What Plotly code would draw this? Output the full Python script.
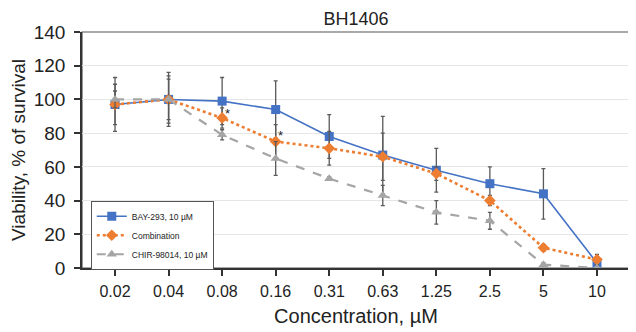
import plotly.graph_objects as go

concentrations = ["0.02", "0.04", "0.08", "0.16", "0.31", "0.63", "1.25", "2.5", "5", "10"]

bay_values = [97, 100, 99, 94, 78, 67, 58, 50, 44, 3]
bay_err = [16, 16, 14, 17, 13, 23, 13, 10, 15, 3]

comb_values = [97, 100, 89, 75, 71, 66, 56, 40, 12, 5]
comb_err = [12, 14, 6, 10, 10, 14, 4, 3, 2, 3]

chir_values = [100, 100, 79, 65, 53, 43, 33, 28, 2, 0]
chir_err = [5, 12, 3, 10, 1, 6, 7, 5, 1, 1]

series_names = ["BAY-293, 10 µM", "Combination", "CHIR-98014, 10 µM"]
star_positions = ["0.08", "0.16"]
star_values = [93, 80]

ERR_COLOR = "#5a5a5a"
FONT = "Liberation Sans, Arial, sans-serif"

# the page body has an 8px margin, so the figure is sized to fit the window
FIG_W, FIG_H = 628, 324

fig = go.Figure()

fig.add_trace(go.Scatter(
    x=concentrations, y=bay_values, name=series_names[0], mode="lines+markers",
    line=dict(color="#4472C4", width=1.6),
    marker=dict(symbol="square", size=9, color="#4472C4"),
    error_y=dict(type="data", array=bay_err, visible=True, color=ERR_COLOR, thickness=1.3, width=2),
))
fig.add_trace(go.Scatter(
    x=concentrations, y=comb_values, name=series_names[1], mode="lines+markers",
    line=dict(color="#ED7D31", width=2.6, dash="dot"),
    marker=dict(symbol="diamond", size=9, color="#ED7D31"),
    error_y=dict(type="data", array=comb_err, visible=True, color=ERR_COLOR, thickness=1.3, width=2),
))
fig.add_trace(go.Scatter(
    x=concentrations, y=chir_values, name=series_names[2], mode="lines+markers",
    line=dict(color="#A5A5A5", width=2.2, dash="dash"),
    marker=dict(symbol="triangle-up", size=9, color="#A5A5A5"),
    error_y=dict(type="data", array=chir_err, visible=True, color=ERR_COLOR, thickness=1.3, width=2),
))

for xp, yp in zip(star_positions, star_values):
    fig.add_annotation(x=concentrations.index(xp), y=yp, text="*", showarrow=False, xshift=5,
                       yshift=-2, font=dict(size=13, color="#222222", family=FONT))

fig.update_layout(
    width=FIG_W, height=FIG_H,
    margin=dict(l=74, r=6, t=24, b=64),
    paper_bgcolor="white", plot_bgcolor="white",
    font=dict(family=FONT, color="#222222"),
    title=dict(text="BH1406", x=348 / FIG_W, xanchor="center", y=1 - 11 / FIG_H, yanchor="middle",
               font=dict(size=18, color="#222222", family=FONT)),
    showlegend=True,
    legend=dict(x=0.016, y=0.285, xanchor="left", yanchor="top",
                bgcolor="white", bordercolor="#555555", borderwidth=1,
                font=dict(size=8.5, color="#222222", family=FONT),
                itemwidth=30, tracegroupgap=0),
    xaxis=dict(type="category", showline=True, linecolor="#333333", linewidth=1.5,
               automargin=False,
               mirror=False, ticks="outside", ticklen=6, tickcolor="#333333", tickwidth=1.5,
               tickfont=dict(size=16), showgrid=False, ticklabelstandoff=2,
               title=dict(text="Concentration, µM", font=dict(size=20), standoff=10)),
    yaxis=dict(range=[0, 140], dtick=20, showline=True, linecolor="#333333", linewidth=1.5,
               automargin=False,
               ticks="outside", ticklen=6, tickcolor="#333333", tickwidth=1.5,
               tickfont=dict(size=19), showgrid=True, gridcolor="#e6e6e6", gridwidth=1,
               zeroline=False, ticklabelstandoff=5,
               title=dict(text="Viability, % of survival", font=dict(size=19), standoff=7)),
)

fig.add_shape(type="rect", xref="paper", yref="paper", x0=0, y0=0, x1=1, y1=1,
              line=dict(color="#555555", width=1.2), layer="below")

fig.write_html("out.html")
